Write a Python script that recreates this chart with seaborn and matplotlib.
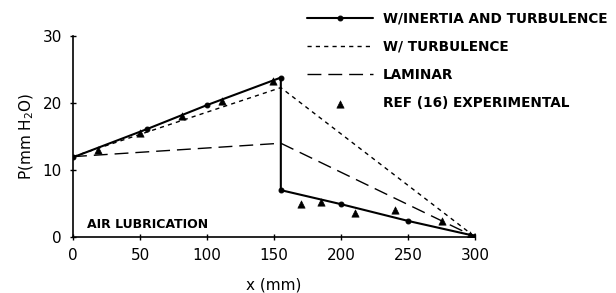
import matplotlib
matplotlib.use("Agg")
import matplotlib.pyplot as plt
import seaborn as sns
import pandas as pd

# -------------------- datos --------------------
x_inert = [0, 55, 100, 155, 155, 200, 250, 300]
p_inert = [11.9, 16.1, 19.7, 23.8, 7.0, 4.9, 2.4, 0.15]

x_turb = [0, 155, 300]
p_turb = [12.0, 22.3, 0.0]

x_lam = [0, 155, 300]
p_lam = [12.0, 14.0, 0.0]

x_exp = [19, 50, 81, 111, 149, 170, 185, 210, 240, 275, 296]
p_exp = [13.0, 15.6, 18.0, 20.3, 23.3, 5.0, 5.2, 3.6, 4.0, 2.4, 0.3]

x_ticks = [0, 50, 100, 150, 200, 250, 300]
y_ticks = [0, 10, 20, 30]

labels = ["W/INERTIA AND TURBULENCE", "W/ TURBULENCE", "LAMINAR",
          "REF (16) EXPERIMENTAL"]

# -------------------- figura --------------------
sns.set_style("ticks")
plt.rcParams['font.family'] = ['DejaVu Sans']
plt.rcParams['text.color'] = 'black'
plt.rcParams['axes.labelcolor'] = 'black'
plt.rcParams['xtick.color'] = 'black'
plt.rcParams['ytick.color'] = 'black'

fig = plt.figure(figsize=(6.16, 2.93), dpi=100)
ax = fig.add_axes([0.1185, 0.191, 0.653, 0.686])

df_inert = pd.DataFrame({"x": x_inert, "p": p_inert})
df_turb = pd.DataFrame({"x": x_turb, "p": p_turb})
df_lam = pd.DataFrame({"x": x_lam, "p": p_lam})
df_exp = pd.DataFrame({"x": x_exp, "p": p_exp})

sns.lineplot(data=df_inert, x="x", y="p", sort=False, estimator=None, ax=ax,
             color="black", lw=1.5, marker="o", markersize=3.5,
             markeredgecolor="black", label=labels[0])
sns.lineplot(data=df_turb, x="x", y="p", sort=False, estimator=None, ax=ax,
             color="black", lw=1.0, dashes=False, label=labels[1])
sns.lineplot(data=df_lam, x="x", y="p", sort=False, estimator=None, ax=ax,
             color="black", lw=1.0, label=labels[2])
ax.lines[1].set_dashes((3, 3))
ax.lines[2].set_dashes((10, 5))
sns.scatterplot(data=df_exp, x="x", y="p", ax=ax, marker="^", s=28,
                color="black", edgecolor="black", label=labels[3], zorder=5)

ax.set_xlim(0, 300)
ax.set_ylim(0, 30)
ax.set_xticks(x_ticks)
ax.set_yticks(y_ticks)
ax.tick_params(direction="inout", length=4, width=1, labelsize=11, pad=6)
sns.despine(ax=ax)
for s in ["left", "bottom"]:
    ax.spines[s].set_linewidth(1.2)
    ax.spines[s].set_color("black")
ax.set_xlabel("x (mm)", fontsize=11, labelpad=10)
ax.set_ylabel("P(mm H$_2$O)", fontsize=11, labelpad=5)

ax.text(10.5, 1.8, "AIR LUBRICATION", fontsize=9, fontweight="bold",
        va="center", ha="left")

leg = ax.legend(loc="upper left", bbox_to_anchor=(0.49, 0.98),
                bbox_transform=fig.transFigure, frameon=False, fontsize=9.8,
                handlelength=4.8, handletextpad=0.75, labelspacing=1.05,
                borderaxespad=0)
for t in leg.get_texts():
    t.set_fontweight("bold")
    t.set_color("black")

fig.savefig("out.png", dpi=100)
